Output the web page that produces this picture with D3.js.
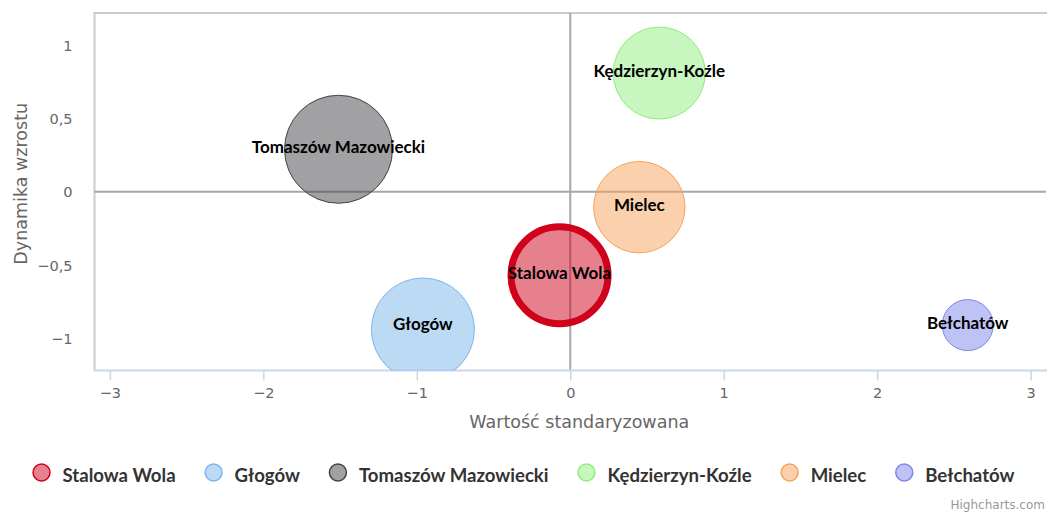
<!DOCTYPE html>
<html>
<head>
<meta charset="utf-8">
<script src="https://cdn.jsdelivr.net/npm/d3@7"></script>
<style>
  html, body { margin: 0; padding: 0; background: #ffffff; }
  svg { display: block; }
</style>
</head>
<body>
<svg id="chart" width="1047" height="513"></svg>
<script>
// ---- data ----
const categories = ["Stalowa Wola", "Głogów", "Tomaszów Mazowiecki", "Kędzierzyn-Koźle", "Mielec", "Bełchatów"];
const xValues = [-0.07, -0.96, -1.51, 0.58, 0.45, 2.59];
const yValues = [-0.57, -0.94, 0.29, 0.81, -0.105, -0.91];
const zValues = [2.355, 2.656, 2.92, 2.119, 2.09, 0.651];
const seriesColors = ["#d0021b", "#7cb5ec", "#434348", "#90ed7d", "#f7a35c", "#8085e9"];
const xTicks = [-3, -2, -1, 0, 1, 2, 3];
const yTicks = [-1, -0.5, 0, 0.5, 1];
const xTitle = "Wartość standaryzowana";
const yTitle = "Dynamika wzrostu";
const creditText = "Highcharts.com";
const highlighted = "Stalowa Wola";

// ---- layout ----
const W = 1047, H = 513;
const plot = { left: 94.5, top: 13, right: 1046, bottom: 370.5 };
const svg = d3.select("#chart");

const x = d3.scaleLinear().domain([-3.1, 3.1]).range([plot.left, plot.right]);
const y = d3.scaleLinear().domain([-1.22, 1.22]).range([plot.bottom, plot.top]);
const r = d3.scaleSqrt().domain([0, d3.max(zValues)]).range([0, 54]);

const loc = d3.formatLocale({ decimal: ",", thousands: " ", grouping: [3], currency: ["", ""], minus: "\u2212" });
const fmt = loc.format("~f");

const regular = "'DejaVu Sans', sans-serif";
const bold = "Lato, 'DejaVu Sans', sans-serif";

// clip
svg.append("defs").append("clipPath").attr("id", "plotclip")
  .append("rect").attr("x", plot.left).attr("y", plot.top)
  .attr("width", plot.right - plot.left).attr("height", plot.bottom - plot.top);

// plot border (top, left)
svg.append("line").attr("x1", plot.left - 1).attr("x2", W).attr("y1", plot.top).attr("y2", plot.top)
  .attr("stroke", "#cccccc").attr("stroke-width", 2);
svg.append("line").attr("x1", plot.left).attr("x2", plot.left).attr("y1", plot.top).attr("y2", plot.bottom)
  .attr("stroke", "#cccccc").attr("stroke-width", 2);

// plot lines at zero
svg.append("line").attr("x1", plot.left).attr("x2", plot.right).attr("y1", y(0)).attr("y2", y(0))
  .attr("stroke", "#a6a6a6").attr("stroke-width", 2);
svg.append("line").attr("x1", x(0)).attr("x2", x(0)).attr("y1", plot.top).attr("y2", plot.bottom)
  .attr("stroke", "#a6a6a6").attr("stroke-width", 2);

// x axis
const xAxis = d3.axisBottom(x).tickValues(xTicks).tickFormat(fmt).tickSize(10).tickPadding(6);
const gx = svg.append("g").attr("transform", `translate(0,${plot.bottom})`).call(xAxis);
gx.select(".domain").attr("stroke", "#ccd6eb").attr("stroke-width", 2)
  .attr("d", `M${plot.left},0H${W}`);
gx.selectAll(".tick line").attr("stroke", "#ccd6eb").attr("stroke-width", 1.5);
gx.selectAll(".tick text").attr("fill", "#666666").attr("font-family", regular).attr("font-size", 14.5)
  .attr("dy", null).attr("y", 27.5);

// y axis
const yAxis = d3.axisLeft(y).tickValues(yTicks).tickFormat(fmt).tickSize(0).tickPadding(0);
const gy = svg.append("g").attr("transform", `translate(${plot.left - 22},0)`).call(yAxis);
gy.select(".domain").remove();
gy.selectAll(".tick text").attr("fill", "#666666").attr("font-family", regular).attr("font-size", 14.5)
  .attr("dy", null).attr("x", 0).attr("y", 5);

// axis titles
svg.append("text").attr("x", (plot.left + plot.right) / 2 + 9).attr("y", 428)
  .attr("text-anchor", "middle").attr("fill", "#666666").attr("font-family", regular).attr("font-size", 17.5)
  .text(xTitle);
svg.append("text").attr("transform", `translate(27,${(plot.top + plot.bottom) / 2 - 8}) rotate(-90)`)
  .attr("text-anchor", "middle").attr("fill", "#666666").attr("font-family", regular).attr("font-size", 17.5)
  .text(yTitle);

// bubbles
const data = categories.map((c, i) => ({ name: c, x: xValues[i], y: yValues[i], z: zValues[i], color: seriesColors[i] }));
const gb = svg.append("g").attr("clip-path", "url(#plotclip)");
gb.selectAll("circle").data(data).join("circle")
  .attr("cx", d => x(d.x)).attr("cy", d => y(d.y)).attr("r", d => r(d.z))
  .attr("fill", d => d3.color(d.color).copy({ opacity: 0.5 }))
  .attr("stroke", d => d.color)
  .attr("stroke-width", d => d.name === highlighted ? 7 : 1);

// data labels
svg.append("g").selectAll("text").data(data).join("text")
  .attr("x", d => x(d.x)).attr("y", d => Math.min(y(d.y), plot.bottom - 45) + 4)
  .attr("text-anchor", "middle").attr("fill", "#000000")
  .attr("font-family", bold).attr("font-weight", "bold").attr("font-size", 17)
  .text(d => d.name);

// legend
const lg = svg.append("g");
const items = lg.selectAll("g").data(data).join("g");
items.append("circle").attr("r", 8.5).attr("cy", 0)
  .attr("fill", d => d3.color(d.color).copy({ opacity: 0.5 }))
  .attr("stroke", d => d.color).attr("stroke-width", 1.5);
items.append("text").attr("x", 21).attr("y", 9.5)
  .attr("fill", "#333333").attr("font-family", bold).attr("font-weight", "bold").attr("font-size", 18.6)
  .text(d => d.name);
let cx = 0;
const positions = [];
items.each(function (d, i) {
  const tw = this.querySelector("text").getComputedTextLength();
  positions.push(cx);
  cx += 21 + tw + 38;
});
const totalW = cx - 38 + 9;
const startX = (W - totalW) / 2 + 9;
items.attr("transform", (d, i) => `translate(${startX + positions[i]},472.5)`);

// credits
svg.append("text").attr("x", 1045).attr("y", 509).attr("text-anchor", "end")
  .attr("fill", "#999999").attr("font-family", regular).attr("font-size", 12)
  .text(creditText);
</script>
</body>
</html>
